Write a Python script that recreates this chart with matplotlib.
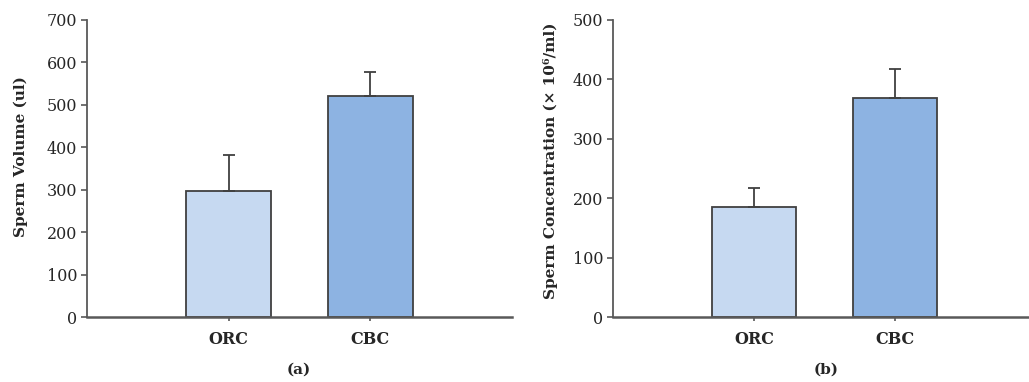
import matplotlib
matplotlib.use("Agg")
import matplotlib.pyplot as plt
import numpy as np

categories = ["ORC", "CBC"]
volume = [297, 522]
volume_err = [85, 56]
concentration = [186, 368]
concentration_err = [32, 50]

bar_colors = ["#C6D9F1", "#8DB3E2"]
edge = "#404040"
spine_c = "#595959"
txt_c = "#262626"

plt.rcParams["font.family"] = ["DejaVu Serif"]

W, H = 1029, 382
fig = plt.figure(figsize=(W / 100, H / 100), dpi=100)

def make(ax, vals, errs, ymax, ylabel, lab_xy):
    x = np.arange(len(categories))
    ax.bar(x, vals, width=0.6, color=bar_colors, edgecolor=edge, linewidth=1.3, zorder=2)
    ax.errorbar(x, vals, yerr=[np.zeros(len(errs)), errs], fmt="none",
                ecolor="#404040", elinewidth=1.3, capsize=4, capthick=1.3, zorder=3)
    ax.set_xlim(-1, 2)
    ax.set_ylim(0, ymax)
    ax.set_yticks(np.arange(0, ymax + 1, 100))
    ax.set_xticks(x)
    ax.set_xticklabels(categories, fontweight="bold", fontsize=11.5, color=txt_c)
    for s in ["top", "right"]:
        ax.spines[s].set_visible(False)
    for s in ["left", "bottom"]:
        ax.spines[s].set_color(spine_c)
        ax.spines[s].set_linewidth(1.8)
    ax.spines["left"].set_linewidth(1.3)
    ax.tick_params(axis="y", direction="out", length=4, width=1.2, color=spine_c,
                   labelsize=11.5, labelcolor=txt_c, pad=3)
    ax.tick_params(axis="x", direction="out", length=3, width=1.2, color=spine_c, pad=7)
    ax.set_ylabel(ylabel, fontweight="bold", fontsize=11, color=txt_c, va="center")
    ax.yaxis.set_label_coords(*lab_xy)

ax1 = fig.add_axes([87 / W, 1 - 317 / H, (512 - 87) / W, (317 - 20) / H])
make(ax1, volume, volume_err, 700, "Sperm Volume (ul)", (-0.155, 0.54))
ax2 = fig.add_axes([613 / W, 1 - 317 / H, 423 / W, (317 - 20) / H])
make(ax2, concentration, concentration_err, 500, "Sperm Concentration (× 10⁶/ml)",
     (-0.147, 0.525))

fig.text(299 / W, 1 - 370 / H, "(a)", ha="center", va="center", fontweight="bold",
         fontsize=11, color=txt_c)
fig.text(826 / W, 1 - 370 / H, "(b)", ha="center", va="center", fontweight="bold",
         fontsize=11, color=txt_c)

fig.savefig("out.png", dpi=100, facecolor="white")
